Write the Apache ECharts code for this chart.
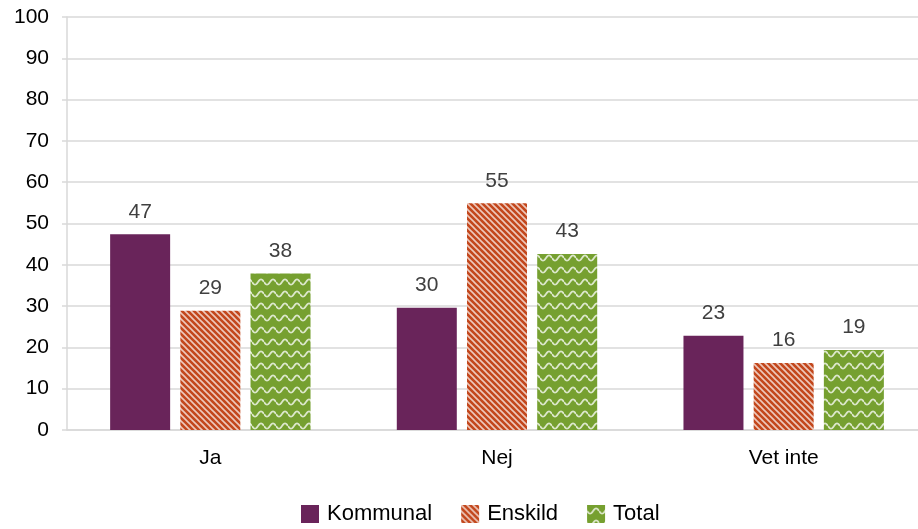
<!DOCTYPE html>
<html>
<head>
<meta charset="utf-8">
<script src="https://cdn.jsdelivr.net/npm/echarts@6/dist/echarts.min.js"></script>
<style>
  html, body { margin: 0; padding: 0; background: #fff; }
  #chart { width: 918px; height: 529px; }
</style>
</head>
<body>
<div id="chart"></div>
<script>
// data
const categories = ['Ja', 'Nej', 'Vet inte']
const seriesNames = ['Kommunal', 'Enskild', 'Total']
const kommunal = [47.4, 29.6, 22.8]
const enskild = [28.9, 54.9, 16.2]
const total = [37.9, 42.6, 19.4]
const yTicks = { min: 0, max: 100, interval: 10 }

const font = "'Liberation Sans', Arial, sans-serif"

// diagonal stripes ("\" direction) for Enskild
function stripePattern() {
  const c = document.createElement('canvas')
  const s = 6
  c.width = s; c.height = s
  const ctx = c.getContext('2d')
  ctx.fillStyle = '#C3471C'
  ctx.fillRect(0, 0, s, s)
  ctx.strokeStyle = 'rgba(255,255,255,0.7)'
  ctx.lineWidth = 1.6
  ctx.beginPath()
  ctx.moveTo(-1, -1); ctx.lineTo(s + 1, s + 1)
  ctx.moveTo(-1, s - 1); ctx.lineTo(1, s + 1)
  ctx.moveTo(s - 1, -1); ctx.lineTo(s + 1, 1)
  ctx.stroke()
  return c
}

// wavy lines for Total
function wavePattern() {
  const c = document.createElement('canvas')
  const w = 12, h = 12
  c.width = w; c.height = h
  const ctx = c.getContext('2d')
  ctx.fillStyle = '#76A030'
  ctx.fillRect(0, 0, w, h)
  ctx.strokeStyle = 'rgba(255,255,255,0.75)'
  ctx.lineWidth = 1.8
  ctx.beginPath()
  for (let x = 0; x <= w; x += 0.5) {
    const y = 6 + 2.6 * Math.sin(2 * Math.PI * x / w)
    if (x === 0) ctx.moveTo(x, y)
    else ctx.lineTo(x, y)
  }
  ctx.stroke()
  return c
}

const colors = [
  '#69245A',
  { image: stripePattern(), repeat: 'repeat' },
  { image: wavePattern(), repeat: 'repeat' }
]

const values = [kommunal, enskild, total]
const series = seriesNames.map(function(name, i) {
  return {
    name: name,
    type: 'bar',
    barWidth: 60,
    barGap: '17%',
    data: values[i],
    itemStyle: { color: colors[i] },
    label: {
      show: true,
      position: 'top',
      distance: 12,
      color: '#404040',
      fontSize: 21,
      fontFamily: font,
      formatter: function(p) { return Math.round(p.value) }
    },
    animation: false
  }
})

const chart = echarts.init(document.getElementById('chart'))
chart.setOption({
  animation: false,
  textStyle: { fontFamily: font },
  grid: {
    left: 67,
    right: -9,
    top: 17,
    bottom: 99,
    outerBoundsMode: 'none',
    containLabel: false
  },
  legend: {
    top: 498,
    left: 296,
    itemWidth: 18,
    itemHeight: 18,
    itemGap: 29,
    icon: 'rect',
    textStyle: { fontSize: 22, color: '#000', fontFamily: font, padding: [0, 0, 0, 3] },
    data: seriesNames
  },
  xAxis: {
    type: 'category',
    data: categories,
    axisLine: { lineStyle: { color: '#d9d9d9', width: 1.5 } },
    axisTick: { show: false },
    axisLabel: { color: '#000', fontSize: 21, margin: 18, fontFamily: font }
  },
  yAxis: {
    type: 'value',
    min: yTicks.min,
    max: yTicks.max,
    interval: yTicks.interval,
    axisLine: { show: true, lineStyle: { color: '#d9d9d9', width: 1.5 } },
    axisTick: { show: true, length: 5, lineStyle: { color: '#d9d9d9', width: 1.5 } },
    axisLabel: { color: '#000', fontSize: 21, margin: 18, fontFamily: font },
    splitLine: { lineStyle: { color: '#d9d9d9', width: 1.5 } }
  },
  series: series
})
</script>
</body>
</html>
